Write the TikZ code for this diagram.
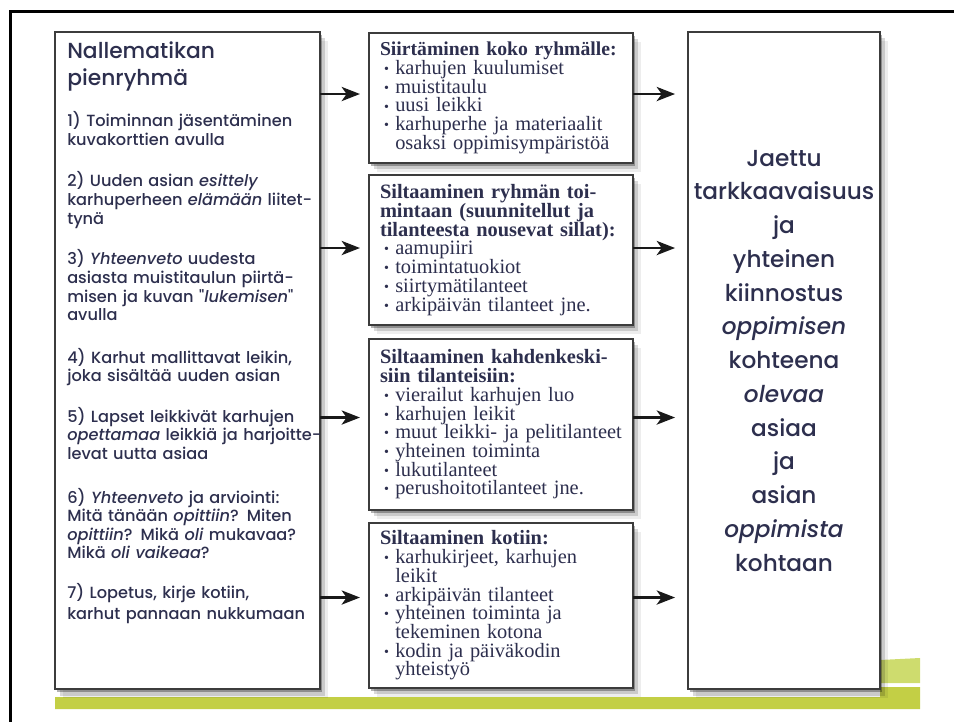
\documentclass[tikz,border=0pt]{standalone}
\usepackage{fontspec}
\setmainfont{Liberation Serif}
\newfontfamily\handfont{Poppins}[UprightFont={* Medium}, ItalicFont={* Medium Italic}]
\usetikzlibrary{arrows.meta}
\usetikzlibrary{shadows, calc}
\usetikzlibrary{positioning}

\definecolor{ink}{HTML}{2D2F4E}
\definecolor{frameline}{HTML}{3C3C3C}
\definecolor{wispgreen}{HTML}{C3CF45}
\definecolor{wisplight}{HTML}{CEDC6E}

% bullet item with hanging indent
\newcommand{\kohta}[1]{\par\hangindent=0.75em\hangafter=1\noindent\hspace*{0.2em}\makebox[0.55em][l]{\raisebox{0.1ex}{\fontsize{10}{10}\selectfont\textbullet}}#1\par}

\begin{document}
\begin{tikzpicture}[x=0.025cm, y=-0.025cm, >={Stealth[length=13pt, width=10pt, inset=3.5pt]}]

    % Define styles
    \tikzstyle{panel} = [rectangle, draw=frameline, line width=1.4pt, fill=white, outer sep=0pt, anchor=north west,
        drop shadow={shadow xshift=5.5pt, shadow yshift=-6.5pt, opacity=0.07, fill=black},
        drop shadow={shadow xshift=3.5pt, shadow yshift=-4.5pt, opacity=0.15, fill=black},
        drop shadow={shadow xshift=1.5pt, shadow yshift=-2pt, opacity=0.3, fill=black}]
    \tikzstyle{bridge} = [panel, text width=6.05cm, inner xsep=0.275cm, inner ysep=0pt, align=left, text=ink, font=\fontsize{14.5}{13.3}\selectfont]
    \tikzstyle{stepnote} = [anchor=base west, text width=6.4cm, align=left, inner sep=0pt, text=ink, font=\handfont\fontsize{11.5}{13.2}\selectfont]
    \tikzstyle{flow} = [->, line width=2.1pt, draw=black!90]

    \useasboundingbox (0,0) rectangle (954,722);

    % Slide frame and green strips
    \draw[line width=2.1pt] (10.5,722) -- (10.5,11.5) -- (954,11.5);
    \fill[wisplight] (840,662) -- (920,658) -- (920,683) -- (840,683) -- cycle;
    \fill[wispgreen] (55,697) -- (880,697) -- (880,687) -- (920,687) -- (920,709) -- (55,709) -- cycle;

    % Left column
    \node[panel, minimum width=6.625cm, minimum height=16.425cm] (plan) at (55,32) {};
    \node[stepnote, font=\handfont\fontsize{15.5}{18.5}\selectfont] (title) at (67,59) {Nallematikan\\pienryhmä};
    \node[stepnote] (step1) at (67,127) {1) Toiminnan jäsentäminen\\kuvakorttien avulla};
    \node[stepnote] (step2) at (67,187) {2) Uuden asian \textit{esittely}\\karhuperheen \textit{elämään} liitet-\\tynä};
    \node[stepnote] (step3) at (67,265) {3) \textit{Yhteenveto} uudesta\\asiasta muistitaulun piirtä-\\misen ja kuvan "\textit{lukemisen}"\\avulla};
    \node[stepnote] (step4) at (67,363) {4) Karhut mallittavat leikin,\\joka sisältää uuden asian};
    \node[stepnote] (step5) at (67,422) {5) Lapset leikkivät karhujen\\\textit{opettamaa} leikkiä ja harjoitte-\\levat uutta asiaa};
    \node[stepnote] (step6) at (67,503) {6) \textit{Yhteenveto} ja arviointi:\\Mitä tänään \textit{opittiin}? Miten\\\textit{opittiin}? Mikä \textit{oli} mukavaa?\\Mikä \textit{oli} \textit{vaikeaa}?};
    \node[stepnote] (step7) at (67,598) {7) Lopetus, kirje kotiin,\\[2pt]karhut pannaan nukkumaan};

    % Middle column
    \node[bridge, minimum height=3.25cm] (siirto) at (369,33) {{\bfseries\fontsize{14}{13.3}\selectfont Siirtäminen koko ryhmälle:}
        \kohta{karhujen kuulumiset}
        \kohta{muistitaulu}
        \kohta{uusi leikki}
        \kohta{karhuperhe ja materiaalit\newline osaksi oppimisympäristöä}};
    \node[bridge, minimum height=3.75cm] (ryhma) at (369,175) {{\bfseries Siltaaminen ryhmän toi-\\mintaan (suunnitellut ja\\tilanteesta nousevat sillat):}
        \kohta{aamupiiri}
        \kohta{toimintatuokiot}
        \kohta{siirtymätilanteet}
        \kohta{arkipäivän tilanteet jne.}};
    \node[bridge, minimum height=4.275cm] (kahden) at (369,339) {{\bfseries Siltaaminen kahdenkeski-\\siin tilanteisiin:}
        \kohta{vierailut karhujen luo}
        \kohta{karhujen leikit}
        \kohta{muut leikki- ja pelitilanteet}
        \kohta{yhteinen toiminta}
        \kohta{lukutilanteet}
        \kohta{perushoitotilanteet jne.}};
    \node[bridge, minimum height=4.125cm] (koti) at (369,523) {{\bfseries Siltaaminen kotiin:}
        \kohta{karhukirjeet, karhujen\newline leikit}
        \kohta{arkipäivän tilanteet}
        \kohta{yhteinen toiminta ja\newline tekeminen kotona}
        \kohta{kodin ja päiväkodin\newline yhteistyö}};

    % Right column
    \node[panel, minimum width=4.8cm, minimum height=16.425cm] (joint) at (688,32) {};
    \node[text width=4.6cm, align=center, inner sep=0pt, text=ink, font=\handfont\fontsize{16.5}{24}\selectfont] (goal) at (joint.center)
        {Jaettu\\tarkkaavaisuus\\ja\\yhteinen\\kiinnostus\\\textit{oppimisen}\\kohteena\\\textit{olevaa}\\asiaa\\ja\\asian\\\textit{oppimista}\\kohtaan};

    % Arrows
    \draw[flow, shorten >=6.4pt] ($(plan.east |- siirto.west)+(0,-4)$) -- ($(siirto.west)+(0,-4)$);
    \draw[flow, shorten >=6.4pt] ($(plan.east |- ryhma.west)+(0,-2)$) -- ($(ryhma.west)+(0,-2)$);
    \draw[flow, shorten >=6.4pt] ($(plan.east |- kahden.west)+(0,-7)$) -- ($(kahden.west)+(0,-7)$);
    \draw[flow, shorten >=6.4pt] ($(plan.east |- koti.west)+(0,-8)$) -- ($(koti.west)+(0,-8)$);

    \draw[flow, shorten >=9.2pt] ($(siirto.east)+(0,-4)$) -- ($(joint.west |- siirto.east)+(0,-4)$);
    \draw[flow, shorten >=9.2pt] ($(ryhma.east)+(0,-2)$) -- ($(joint.west |- ryhma.east)+(0,-2)$);
    \draw[flow, shorten >=9.2pt] ($(kahden.east)+(0,-7)$) -- ($(joint.west |- kahden.east)+(0,-7)$);
    \draw[flow, shorten >=9.2pt] ($(koti.east)+(0,-8)$) -- ($(joint.west |- koti.east)+(0,-8)$);

\end{tikzpicture}
\end{document}
